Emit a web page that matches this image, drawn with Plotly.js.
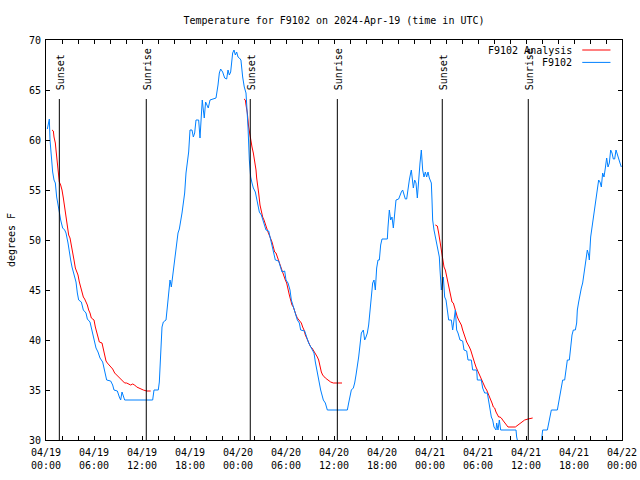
<!DOCTYPE html>
<html>
<head>
<meta charset="utf-8">
<script src="https://cdn.plot.ly/plotly-3.0.1.min.js"></script>
<style>html,body{margin:0;padding:0;background:#fff}#chart{width:640px;height:480px}</style>
</head>
<body>
<div id="chart"></div>
<script>
const chartTitle = 'Temperature for F9102 on 2024-Apr-19 (time in UTC)';
const yTitle = 'degrees F';
const seriesNames = ['F9102 Analysis', 'F9102'];

const eventLabels = ['Sunset', 'Sunrise', 'Sunset', 'Sunrise', 'Sunset', 'Sunrise'];
const eventTimes = ['2024-04-19 01:40', '2024-04-19 12:32', '2024-04-20 01:32', '2024-04-20 12:25', '2024-04-21 01:32', '2024-04-21 12:17'];

const stationTimes = [
'2024-04-19 00:10','2024-04-19 00:20','2024-04-19 00:25','2024-04-19 00:30','2024-04-19 00:40','2024-04-19 00:50','2024-04-19 01:00','2024-04-19 01:10','2024-04-19 01:20','2024-04-19 01:30',
'2024-04-19 01:40','2024-04-19 01:50','2024-04-19 02:05','2024-04-19 02:20','2024-04-19 02:30','2024-04-19 02:45','2024-04-19 02:55','2024-04-19 03:05','2024-04-19 03:15','2024-04-19 03:25',
'2024-04-19 03:35','2024-04-19 03:45','2024-04-19 03:55','2024-04-19 04:05','2024-04-19 04:25','2024-04-19 04:40','2024-04-19 05:00','2024-04-19 05:10','2024-04-19 05:30','2024-04-19 05:45',
'2024-04-19 05:55','2024-04-19 06:05','2024-04-19 06:15','2024-04-19 06:30','2024-04-19 06:45','2024-04-19 07:05','2024-04-19 07:20','2024-04-19 07:35','2024-04-19 08:05','2024-04-19 08:20',
'2024-04-19 08:30','2024-04-19 08:55','2024-04-19 09:10','2024-04-19 09:20','2024-04-19 09:30','2024-04-19 09:40','2024-04-19 09:50','2024-04-19 13:20','2024-04-19 13:30','2024-04-19 14:02',
'2024-04-19 14:10','2024-04-19 14:15','2024-04-19 14:22','2024-04-19 14:30','2024-04-19 14:40','2024-04-19 15:00','2024-04-19 15:10','2024-04-19 15:20','2024-04-19 15:30','2024-04-19 15:40',
'2024-04-19 15:50','2024-04-19 16:00','2024-04-19 16:10','2024-04-19 16:20','2024-04-19 16:30','2024-04-19 16:40','2024-04-19 16:50','2024-04-19 17:00','2024-04-19 17:10','2024-04-19 17:20',
'2024-04-19 17:30','2024-04-19 17:40','2024-04-19 17:50','2024-04-19 18:00','2024-04-19 18:15','2024-04-19 18:25','2024-04-19 18:35','2024-04-19 18:45','2024-04-19 19:05','2024-04-19 19:15',
'2024-04-19 19:22','2024-04-19 19:32','2024-04-19 19:40','2024-04-19 19:47','2024-04-19 19:57','2024-04-19 20:07','2024-04-19 20:17','2024-04-19 20:30','2024-04-19 21:15','2024-04-19 21:30',
'2024-04-19 21:40','2024-04-19 21:50','2024-04-19 22:05','2024-04-19 22:20','2024-04-19 22:35','2024-04-19 22:45','2024-04-19 22:55','2024-04-19 23:05','2024-04-19 23:20','2024-04-19 23:30',
'2024-04-19 23:40','2024-04-19 23:50',
'2024-04-20 00:00','2024-04-20 00:10','2024-04-20 00:22','2024-04-20 00:35','2024-04-20 00:47','2024-04-20 01:00','2024-04-20 01:10','2024-04-20 01:15','2024-04-20 01:25','2024-04-20 01:30',
'2024-04-20 01:35','2024-04-20 01:45','2024-04-20 01:55','2024-04-20 02:10','2024-04-20 02:20','2024-04-20 02:30','2024-04-20 02:40','2024-04-20 02:55','2024-04-20 03:05','2024-04-20 03:20',
'2024-04-20 03:30','2024-04-20 03:50','2024-04-20 04:00','2024-04-20 04:10','2024-04-20 04:25','2024-04-20 04:40','2024-04-20 05:05','2024-04-20 05:20','2024-04-20 05:30','2024-04-20 05:50',
'2024-04-20 06:00','2024-04-20 06:15','2024-04-20 06:30','2024-04-20 06:40','2024-04-20 06:55','2024-04-20 07:10','2024-04-20 07:25','2024-04-20 07:40','2024-04-20 07:50','2024-04-20 08:20',
'2024-04-20 08:35','2024-04-20 08:50','2024-04-20 09:10','2024-04-20 09:30','2024-04-20 09:40','2024-04-20 09:50','2024-04-20 10:05','2024-04-20 10:20','2024-04-20 10:40','2024-04-20 10:55',
'2024-04-20 11:10','2024-04-20 13:40','2024-04-20 13:50','2024-04-20 14:00','2024-04-20 14:10','2024-04-20 14:25','2024-04-20 14:35','2024-04-20 14:45','2024-04-20 14:55','2024-04-20 15:05',
'2024-04-20 15:15','2024-04-20 15:25','2024-04-20 15:40','2024-04-20 15:50','2024-04-20 16:00','2024-04-20 16:10','2024-04-20 16:20','2024-04-20 16:30','2024-04-20 16:40','2024-04-20 16:50',
'2024-04-20 17:00','2024-04-20 17:10','2024-04-20 17:20','2024-04-20 17:30','2024-04-20 17:40','2024-04-20 17:50','2024-04-20 18:00','2024-04-20 18:40','2024-04-20 18:45','2024-04-20 18:55',
'2024-04-20 19:05','2024-04-20 19:15','2024-04-20 19:25','2024-04-20 19:35','2024-04-20 19:45','2024-04-20 20:05','2024-04-20 20:15','2024-04-20 20:25','2024-04-20 20:35','2024-04-20 20:45',
'2024-04-20 20:55','2024-04-20 21:05','2024-04-20 21:15','2024-04-20 21:25','2024-04-20 21:35','2024-04-20 21:40','2024-04-20 21:50','2024-04-20 21:55','2024-04-20 22:05','2024-04-20 22:15',
'2024-04-20 22:25','2024-04-20 22:35','2024-04-20 22:45','2024-04-20 22:55','2024-04-20 23:05','2024-04-20 23:15','2024-04-20 23:25','2024-04-20 23:35','2024-04-20 23:45','2024-04-20 23:55',
'2024-04-21 00:10','2024-04-21 00:15','2024-04-21 00:20','2024-04-21 00:30','2024-04-21 00:40','2024-04-21 00:50','2024-04-21 01:00','2024-04-21 01:10','2024-04-21 01:15','2024-04-21 01:20',
'2024-04-21 01:25','2024-04-21 01:40','2024-04-21 01:50','2024-04-21 02:00','2024-04-21 02:10','2024-04-21 02:20','2024-04-21 02:40','2024-04-21 02:50','2024-04-21 03:00','2024-04-21 03:10',
'2024-04-21 03:20','2024-04-21 03:30','2024-04-21 03:45','2024-04-21 04:05','2024-04-21 04:15','2024-04-21 04:35','2024-04-21 04:45','2024-04-21 05:10','2024-04-21 05:20','2024-04-21 05:50',
'2024-04-21 05:55','2024-04-21 06:25','2024-04-21 06:35','2024-04-21 06:50','2024-04-21 07:10','2024-04-21 07:20','2024-04-21 07:30','2024-04-21 07:40','2024-04-21 07:50','2024-04-21 08:00',
'2024-04-21 08:15','2024-04-21 08:20','2024-04-21 08:30','2024-04-21 08:40','2024-04-21 08:50','2024-04-21 10:45','2024-04-21 10:50','2024-04-21 11:00','2024-04-21 11:30','2024-04-21 13:30',
'2024-04-21 13:55','2024-04-21 14:05','2024-04-21 14:40','2024-04-21 14:50','2024-04-21 15:00','2024-04-21 15:10','2024-04-21 15:55','2024-04-21 16:05','2024-04-21 16:15','2024-04-21 16:25',
'2024-04-21 16:35','2024-04-21 16:50','2024-04-21 17:00','2024-04-21 17:10','2024-04-21 17:25','2024-04-21 17:35','2024-04-21 17:45','2024-04-21 17:55','2024-04-21 18:10','2024-04-21 18:20',
'2024-04-21 18:25','2024-04-21 18:35','2024-04-21 18:45','2024-04-21 18:55','2024-04-21 19:05','2024-04-21 19:15','2024-04-21 19:30','2024-04-21 19:40','2024-04-21 19:50','2024-04-21 19:55',
'2024-04-21 20:05','2024-04-21 20:15','2024-04-21 20:25','2024-04-21 20:35','2024-04-21 20:45','2024-04-21 20:55','2024-04-21 21:05','2024-04-21 21:15','2024-04-21 21:25','2024-04-21 21:35',
'2024-04-21 21:45','2024-04-21 21:55','2024-04-21 22:05','2024-04-21 22:15','2024-04-21 22:25','2024-04-21 22:35','2024-04-21 22:45','2024-04-21 22:55','2024-04-21 23:05','2024-04-21 23:15',
'2024-04-21 23:25','2024-04-21 23:35','2024-04-21 23:45','2024-04-21 23:55'
];
const stationTemps = [
61.1,61.8,62.1,60.0,58.0,56.8,56.0,55.7,54.3,53.3,
52.8,52.0,51.2,51.0,50.7,49.7,48.7,48.0,47.3,46.8,
46.2,45.8,44.7,44.0,43.8,43.0,42.7,42.1,41.8,41.0,
40.5,39.8,39.2,38.8,38.2,37.8,37.0,36.0,35.9,35.5,
35.0,34.9,34.3,34.0,34.8,34.3,34.0,34.0,35.0,35.0,
35.8,37.2,38.7,41.3,41.8,42.0,43.3,44.7,46.0,45.3,
46.3,47.5,48.7,49.5,50.7,51.1,51.8,52.7,53.7,54.7,
56.7,57.7,58.8,61.0,61.0,60.3,60.7,62.0,62.0,60.2,
61.7,64.0,63.0,62.2,63.8,63.5,63.2,64.0,64.2,65.5,
66.7,67.1,66.8,66.2,66.1,67.0,66.5,66.8,68.7,69.0,
68.5,68.8,
68.3,68.2,68.0,66.3,65.3,64.7,62.7,61.3,58.0,57.3,
56.3,55.7,55.2,54.8,54.0,53.3,52.8,52.5,52.0,51.5,
51.0,50.9,50.3,50.0,49.0,48.0,47.9,47.3,46.8,46.9,
46.0,45.7,45.0,44.0,43.3,42.7,42.0,41.7,41.0,40.9,
40.2,39.7,39.2,38.7,37.8,37.0,36.0,35.0,34.0,33.7,
33.0,33.0,33.7,34.5,35.0,35.2,35.7,36.5,37.3,38.3,
39.5,40.7,41.0,40.0,40.3,40.7,41.5,42.7,44.5,45.7,
46.0,45.0,47.2,48.0,48.0,49.5,50.1,50.1,51.3,53.0,
52.0,52.3,51.2,53.0,54.0,54.1,54.5,54.8,55.0,54.5,
54.1,54.1,55.3,56.0,56.7,57.0,55.8,55.2,56.0,55.7,
54.2,56.3,57.7,59.0,57.0,56.3,56.8,56.3,56.8,56.2,
55.7,54.0,52.0,51.0,50.3,49.7,49.0,48.3,47.0,46.0,
45.0,46.3,44.3,44.0,43.0,42.0,42.0,41.0,42.0,43.0,
41.0,40.7,40.0,39.9,39.0,38.9,38.0,38.0,37.0,37.0,
36.0,36.0,35.2,34.7,34.7,34.0,33.3,32.3,32.0,31.3,
31.0,31.7,31.0,32.0,31.0,31.0,30.3,29.7,29.0,29.0,
29.8,31.0,31.0,31.7,32.0,33.0,33.0,33.7,34.7,35.3,
36.0,36.0,37.3,38.0,38.0,39.5,40.5,41.0,41.0,41.7,
43.0,43.8,44.7,45.2,45.7,46.7,47.7,49.0,48.5,48.0,
50.3,51.3,52.2,53.0,54.0,54.8,56.0,55.8,55.3,56.7,
56.3,57.2,58.2,57.3,57.7,59.0,58.7,58.1,58.1,59.0,
58.5,58.0,57.7,57.3
];

const analysisTimes = [
'2024-04-19 00:45','2024-04-19 00:55','2024-04-19 01:00','2024-04-19 01:10','2024-04-19 01:15','2024-04-19 01:20','2024-04-19 01:25','2024-04-19 01:30','2024-04-19 01:40','2024-04-19 01:50',
'2024-04-19 02:00','2024-04-19 02:10','2024-04-19 02:20','2024-04-19 02:30','2024-04-19 02:40','2024-04-19 02:50','2024-04-19 03:00','2024-04-19 03:10','2024-04-19 03:20','2024-04-19 03:30',
'2024-04-19 03:40','2024-04-19 03:50','2024-04-19 04:00','2024-04-19 04:10','2024-04-19 04:20','2024-04-19 04:30','2024-04-19 04:40','2024-04-19 04:50','2024-04-19 05:00','2024-04-19 05:10',
'2024-04-19 05:20','2024-04-19 05:30','2024-04-19 05:40','2024-04-19 05:50','2024-04-19 06:00','2024-04-19 06:10','2024-04-19 06:20','2024-04-19 06:30','2024-04-19 06:40','2024-04-19 07:00',
'2024-04-19 07:10','2024-04-19 07:20','2024-04-19 07:30','2024-04-19 07:40','2024-04-19 07:55','2024-04-19 08:10','2024-04-19 08:20','2024-04-19 08:35','2024-04-19 08:50','2024-04-19 09:05',
'2024-04-19 09:20','2024-04-19 09:35','2024-04-19 09:50','2024-04-19 10:05','2024-04-19 10:20','2024-04-19 10:35','2024-04-19 10:50','2024-04-19 11:05','2024-04-19 11:20','2024-04-19 11:35',
'2024-04-19 11:50','2024-04-19 12:10','2024-04-19 12:35','2024-04-19 13:05',
'2024-04-19 18:00',
'2024-04-20 00:45','2024-04-20 00:55','2024-04-20 01:00','2024-04-20 01:10','2024-04-20 01:20','2024-04-20 01:25','2024-04-20 01:35','2024-04-20 01:45','2024-04-20 01:55','2024-04-20 02:05',
'2024-04-20 02:15','2024-04-20 02:20','2024-04-20 02:25','2024-04-20 02:35','2024-04-20 02:45','2024-04-20 02:55','2024-04-20 03:05','2024-04-20 03:15','2024-04-20 03:25','2024-04-20 03:35',
'2024-04-20 03:45','2024-04-20 03:55','2024-04-20 04:05','2024-04-20 04:15','2024-04-20 04:25','2024-04-20 04:35','2024-04-20 04:45','2024-04-20 04:55','2024-04-20 05:05','2024-04-20 05:15',
'2024-04-20 05:25','2024-04-20 05:35','2024-04-20 05:45','2024-04-20 05:55','2024-04-20 06:05','2024-04-20 06:15','2024-04-20 06:25','2024-04-20 06:35','2024-04-20 06:45','2024-04-20 06:55',
'2024-04-20 07:05','2024-04-20 07:15','2024-04-20 07:25','2024-04-20 07:35','2024-04-20 07:45','2024-04-20 07:55','2024-04-20 08:05','2024-04-20 08:15','2024-04-20 08:25','2024-04-20 08:35',
'2024-04-20 08:45','2024-04-20 08:55','2024-04-20 09:05','2024-04-20 09:15','2024-04-20 09:25','2024-04-20 09:35','2024-04-20 09:45','2024-04-20 09:55','2024-04-20 10:05','2024-04-20 10:15',
'2024-04-20 10:25','2024-04-20 10:35','2024-04-20 10:45','2024-04-20 10:55','2024-04-20 11:15','2024-04-20 11:35','2024-04-20 11:55','2024-04-20 13:00',
'2024-04-20 18:00',
'2024-04-21 00:40','2024-04-21 00:55','2024-04-21 01:05','2024-04-21 01:15','2024-04-21 01:25','2024-04-21 01:30','2024-04-21 01:35','2024-04-21 01:45','2024-04-21 01:55','2024-04-21 02:05',
'2024-04-21 02:15','2024-04-21 02:25','2024-04-21 02:35','2024-04-21 02:45','2024-04-21 02:55','2024-04-21 03:05','2024-04-21 03:15','2024-04-21 03:25','2024-04-21 03:35','2024-04-21 03:45',
'2024-04-21 03:55','2024-04-21 04:05','2024-04-21 04:15','2024-04-21 04:25','2024-04-21 04:35','2024-04-21 04:45','2024-04-21 04:55','2024-04-21 05:05','2024-04-21 05:15','2024-04-21 05:25',
'2024-04-21 05:35','2024-04-21 05:45','2024-04-21 05:55','2024-04-21 06:05','2024-04-21 06:15','2024-04-21 06:25','2024-04-21 06:35','2024-04-21 06:45','2024-04-21 06:55','2024-04-21 07:05',
'2024-04-21 07:15','2024-04-21 07:25','2024-04-21 07:35','2024-04-21 07:45','2024-04-21 07:55','2024-04-21 08:05','2024-04-21 08:15','2024-04-21 08:25','2024-04-21 08:35','2024-04-21 08:45',
'2024-04-21 08:55','2024-04-21 09:05','2024-04-21 09:15','2024-04-21 09:25','2024-04-21 09:35','2024-04-21 09:45','2024-04-21 10:40','2024-04-21 11:00','2024-04-21 11:30','2024-04-21 11:50',
'2024-04-21 12:15','2024-04-21 12:50'
];
const analysisTemps = [
61.0,60.9,60.3,59.7,59.0,58.2,57.7,57.3,55.8,55.5,
55.0,54.2,53.2,52.2,51.0,50.5,50.2,49.3,48.7,48.0,
47.2,46.8,46.5,45.8,45.3,44.8,44.3,44.1,43.8,43.5,
43.0,42.7,42.2,42.1,42.0,41.3,40.7,40.2,39.8,39.7,
39.0,38.3,37.9,37.7,37.5,37.3,37.1,36.7,36.5,36.3,
36.1,35.8,35.7,35.7,35.6,35.5,35.6,35.5,35.3,35.2,
35.1,35.0,34.9,34.9,
null,
64.1,64.0,63.5,62.7,61.3,60.8,60.0,59.3,58.7,58.0,
57.0,56.2,55.5,54.7,53.5,52.7,52.3,52.0,51.5,51.2,
50.8,50.5,50.2,49.8,49.3,48.8,48.7,48.3,47.8,47.5,
47.2,46.7,46.3,46.0,45.7,45.0,44.5,44.0,43.5,43.3,
42.8,42.5,42.2,42.0,41.8,41.7,41.3,41.0,40.5,40.2,
39.8,39.5,39.3,39.2,39.0,38.8,38.5,38.3,38.0,37.3,
36.8,36.5,36.3,36.2,36.0,35.8,35.7,35.7,
null,
51.5,51.4,50.7,49.8,49.0,48.3,47.7,47.3,47.0,46.3,
45.7,45.0,44.3,43.8,43.7,43.2,42.8,42.3,42.0,41.7,
41.5,41.0,40.5,40.2,39.8,39.6,39.3,39.0,38.5,38.0,
37.7,37.3,37.0,36.7,36.3,36.0,35.7,35.4,35.2,35.0,
34.7,34.3,34.0,33.7,33.3,33.2,32.8,32.5,32.3,32.3,
32.2,32.0,31.8,31.7,31.5,31.3,31.3,31.5,31.8,32.0,
32.1,32.2
];

const FONT = 'DejaVu Sans Mono, Liberation Mono, monospace';
const seriesColors = ['#ff0000', '#0080ff'];

const traces = [
  {x: analysisTimes, y: analysisTemps, name: seriesNames[0], type: 'scatter', mode: 'lines',
   line: {color: seriesColors[0], width: 1}, connectgaps: false, showlegend: false, hoverinfo: 'x+y'},
  {x: stationTimes, y: stationTemps, name: seriesNames[1], type: 'scatter', mode: 'lines',
   line: {color: seriesColors[1], width: 1}, showlegend: false, hoverinfo: 'x+y'}
];

const shapes = [];
const annotations = [];
eventTimes.forEach((t, i) => {
  shapes.push({type: 'line', xref: 'x', yref: 'paper', x0: t, x1: t, y0: 0, y1: 0.8525,
               line: {color: '#000', width: 1}});
  annotations.push({x: t, xref: 'x', y: 0.87, yref: 'paper', text: eventLabels[i], textangle: -90,
                    showarrow: false, xanchor: 'center', yanchor: 'bottom', xshift: 1,
                    font: {family: FONT, size: 10, color: '#000'}});
});
// legend (gnuplot style: text left, sample right)
const legendY = [0.975, 0.944];
seriesNames.forEach((n, i) => {
  annotations.push({x: 0.917, xref: 'paper', y: legendY[i], yref: 'paper', text: n, showarrow: false,
                    xanchor: 'right', yanchor: 'middle', font: {family: FONT, size: 10, color: '#000'}});
  shapes.push({type: 'line', xref: 'paper', yref: 'paper', x0: 0.931, x1: 0.980, y0: legendY[i], y1: legendY[i],
               line: {color: seriesColors[i], width: 1}});
});

const layout = {
  width: 640, height: 480,
  margin: {l: 46, r: 18, t: 40, b: 40, pad: 0},
  paper_bgcolor: '#fff', plot_bgcolor: '#fff',
  font: {family: FONT, size: 10, color: '#000'},
  title: {text: chartTitle, x: 0.5, xref: 'paper', xanchor: 'center', y: 1 - 20/480, yref: 'container', yanchor: 'middle',
          font: {family: FONT, size: 10, color: '#000'}},
  showlegend: false,
  xaxis: {
    type: 'date', range: ['2024-04-19 00:00', '2024-04-22 00:00'],
    tick0: '2024-04-19 00:00', dtick: 7200000, ticklabelstep: 3,
    tickformat: '%m/%d<br>%H:%M',
    ticks: 'inside', ticklen: 4, tickwidth: 1, tickcolor: '#000',
    showline: true, linecolor: '#000', linewidth: 1, mirror: 'ticks',
    showgrid: false, zeroline: false, fixedrange: true, ticklabelstandoff: 3,
    tickfont: {family: FONT, size: 10, color: '#000'}
  },
  yaxis: {
    range: [30, 70], tick0: 30, dtick: 5,
    ticks: 'inside', ticklen: 4, tickwidth: 1, tickcolor: '#000',
    showline: true, linecolor: '#000', linewidth: 1, mirror: 'ticks',
    showgrid: false, zeroline: false, fixedrange: true, ticklabelstandoff: 2,
    tickfont: {family: FONT, size: 10, color: '#000'},
    title: {text: yTitle, standoff: 11, font: {family: FONT, size: 10, color: '#000'}}
  },
  shapes: shapes,
  annotations: annotations
};

Plotly.newPlot('chart', traces, layout, {displayModeBar: false, staticPlot: true});
</script>
</body>
</html>
